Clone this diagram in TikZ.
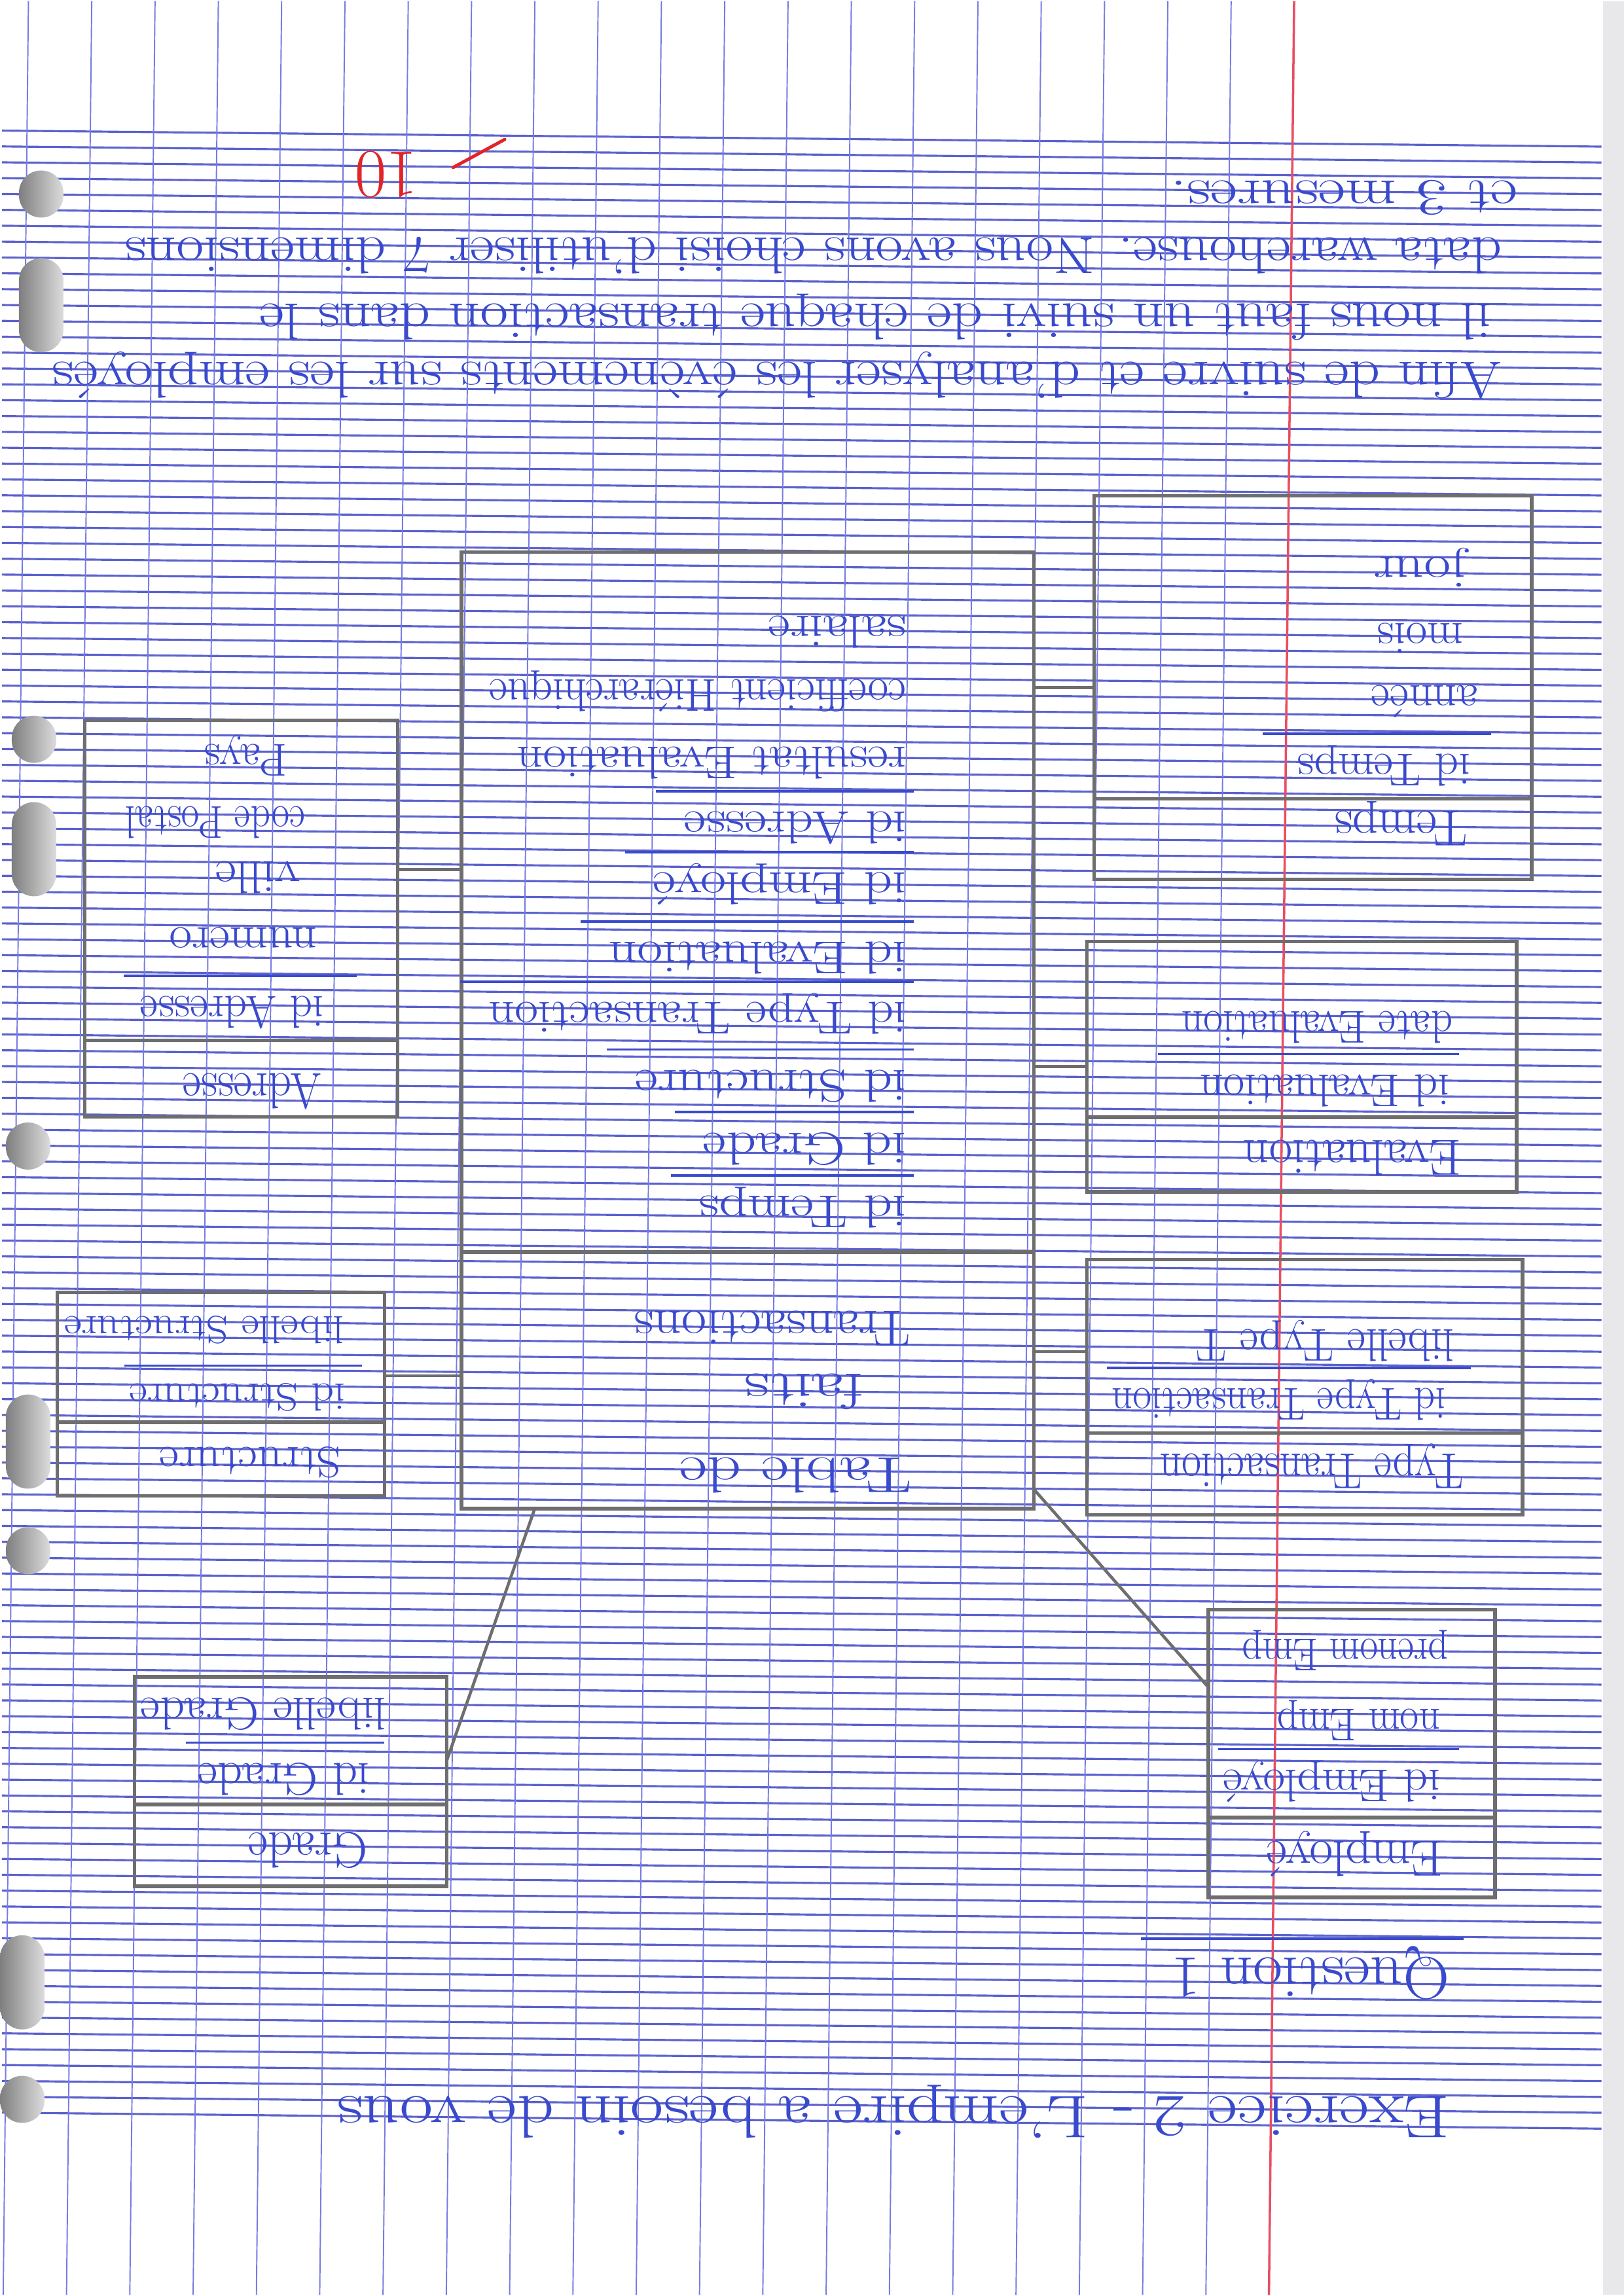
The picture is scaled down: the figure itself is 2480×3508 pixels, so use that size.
\documentclass[tikz,border=0pt]{standalone}
\usepackage{fontspec}
\usepackage{graphicx}
\usetikzlibrary{calc}

\definecolor{ink}{RGB}{58,74,205}
\definecolor{pencil}{RGB}{110,110,112}
\definecolor{ruling}{RGB}{92,98,205}
\definecolor{gridv}{RGB}{118,124,226}
\definecolor{marginred}{RGB}{232,78,98}
\definecolor{redpen}{RGB}{226,36,40}
\definecolor{holegrey}{RGB}{168,168,170}
\definecolor{scanedge}{RGB}{232,232,235}

\newcommand\fieldsize{\fontsize{20pt}{24pt}\selectfont}
\newcommand\smallfieldsize{\fontsize{17pt}{21pt}\selectfont}
\newcommand\headsize{\fontsize{22pt}{26pt}\selectfont}
\newcommand\parasize{\fontsize{22.5pt}{27pt}\selectfont}
\newcommand\titlesize{\fontsize{26pt}{30pt}\selectfont}
% set a handwritten line to a given width, keeping its height
\newcommand\fitto[2]{\resizebox{#1}{\height}{#2}}

\begin{document}
\begin{tikzpicture}[x=0.01cm, y=-0.01cm,
  hline/.style={draw=ruling, line width=0.9pt},
  vline/.style={draw=gridv, line width=0.55pt},
  tbl/.style={draw=pencil, line width=1.5pt, inner sep=0pt, outer sep=0pt},
  sepline/.style={draw=pencil, line width=1.6pt},
  linkline/.style={draw=pencil, line width=1.3pt},
  pk/.style={draw=ink, line width=1.1pt},
  fieldtext/.style={rotate=180, anchor=base west, inner sep=0pt, text=ink, font=\fieldsize},
  smallfield/.style={fieldtext, font=\smallfieldsize},
  headtext/.style={fieldtext, font=\headsize},
  prosetext/.style={fieldtext, font=\parasize},
  titletext/.style={fieldtext, font=\titlesize},
]

% ---------- sheet of ruled paper ----------
\fill[white] (0,0) rectangle (2480,3508);
\fill[scanedge] (2448,0) rectangle (2480,3508);

% horizontal ruling (2 mm pitch, sheet slightly tilted)
\foreach \i in {0,...,125} {
  \pgfmathsetmacro\ya{198+24.25*\i}
  \draw[hline] (0,\ya) -- (2446,{\ya+24.5});
}
% vertical ruling (8 mm pitch)
\foreach \k in {-7,...,12} {
  \pgfmathsetmacro\xa{706+96.8*\k}
  \draw[vline] ({\xa+12.1},0) -- ({\xa-26.5},3508);
}
% red margin
\draw[draw=marginred, line width=1pt] (1976,0) -- (1937.5,3508);

% punch holes
\foreach \hx/\hy/\hh in {60/295/72, 60/465/144, 49/1129/72, 49/1297/144,
                         40/1751/72, 40/2203/144, 40/2370/72, 31/3030/144, 31/3209/72} {
  \shade[left color=holegrey!75!black, right color=holegrey!40!white, rounded corners=0.34cm]
    ({\hx-34},{\hy-\hh/2}) rectangle ({\hx+34},{\hy+\hh/2});
}

% ---------- tables (pencil) ----------
\node[tbl, minimum width=8.75cm, minimum height=14.62cm] (fact)   at (1140.5,1574)  {};
\node[tbl, minimum width=6.69cm, minimum height=5.86cm]  (temps)  at (2004.5,1050)  {};
\node[tbl, minimum width=6.57cm, minimum height=3.83cm]  (eval)   at (1987.5,1629.5){};
\node[tbl, minimum width=6.66cm, minimum height=3.90cm]  (ttype)  at (1992,2120)    {};
\node[tbl, minimum width=4.38cm, minimum height=4.40cm]  (emp)    at (2064,2680)    {};
\node[tbl, minimum width=4.77cm, minimum height=3.20cm]  (grade)  at (441.5,2723)   {};
\node[tbl, minimum width=5.00cm, minimum height=3.11cm]  (struct) at (335,2130.5)   {};
\node[tbl, minimum width=4.78cm, minimum height=6.06cm]  (adr)    at (366,1403)     {};

% header separators
\draw[sepline] ($(fact.north west)!0.732!(fact.south west)$)     -- ($(fact.north east)!0.732!(fact.south east)$);
\draw[sepline] ($(temps.north west)!0.790!(temps.south west)$)   -- ($(temps.north east)!0.790!(temps.south east)$);
\draw[sepline] ($(eval.north west)!0.702!(eval.south west)$)     -- ($(eval.north east)!0.702!(eval.south east)$);
\draw[sepline] ($(ttype.north west)!0.679!(ttype.south west)$)   -- ($(ttype.north east)!0.679!(ttype.south east)$);
\draw[sepline] ($(emp.north west)!0.723!(emp.south west)$)       -- ($(emp.north east)!0.723!(emp.south east)$);
\draw[sepline] ($(grade.north west)!0.609!(grade.south west)$)   -- ($(grade.north east)!0.609!(grade.south east)$);
\draw[sepline] ($(struct.north west)!0.637!(struct.south west)$) -- ($(struct.north east)!0.637!(struct.south east)$);
\draw[sepline] ($(adr.north west)!0.807!(adr.south west)$)       -- ($(adr.north east)!0.807!(adr.south east)$);

% ---------- links between fact table and dimensions ----------
\draw[linkline] (temps.west) -- (temps.west -| fact.east);
\draw[linkline] (eval.west) -- (eval.west -| fact.east);
\coordinate (ttypeL) at ($(ttype.north west)!0.36!(ttype.south west)$);
\draw[linkline] (ttypeL) -- (ttypeL -| fact.east);
\coordinate (adrR) at ($(adr.north east)!0.376!(adr.south east)$);
\draw[linkline] (adrR) -- (adrR -| fact.west);
\coordinate (structR) at ($(struct.north east)!0.41!(struct.south east)$);
\draw[linkline] (structR) -- (structR -| fact.west);
\draw[linkline] ($(fact.south west)!0.128!(fact.south east)$) -- ($(grade.north east)!0.40!(grade.south east)$);
\draw[linkline] ($(fact.north east)!0.98!(fact.south east)$) -- ($(emp.north west)!0.27!(emp.south west)$);

% ---------- fact table text ----------
\node[headtext] (fh1) at (1392,2228) {\fitto{3.55cm}{Table de}};
\node[headtext] (fh2) at (1318,2100) {\fitto{1.82cm}{faits}};
\node[headtext] (fh3) at (1390,2004) {\fitto{4.22cm}{Transactions}};
\node[fieldtext] (f1)  at (1384,1828) {\fitto{3.17cm}{id Temps}};
\node[fieldtext] (f2)  at (1384,1731) {\fitto{3.11cm}{id Grade}};
\node[fieldtext] (f3)  at (1384,1635) {\fitto{4.15cm}{id Structure}};
\node[fieldtext] (f4)  at (1384,1531) {\fitto{6.39cm}{id Type Transaction}};
\node[fieldtext] (f5)  at (1384,1439) {\fitto{4.55cm}{id Evaluation}};
\node[fieldtext] (f6)  at (1384,1333) {\fitto{3.87cm}{id Employé}};
\node[fieldtext] (f7)  at (1384,1240) {\fitto{3.40cm}{id Adresse}};
\node[fieldtext] (f8)  at (1384,1141) {\fitto{5.95cm}{resultat Evaluation}};
\node[fieldtext] (f9)  at (1384,1038) {\fitto{6.37cm}{coefficient Hiérarchique}};
\node[fieldtext] (f10) at (1384,941)  {\fitto{2.11cm}{salaire}};
\foreach \n in {f1,f2,f3,f4,f5,f6,f7}
  \draw[pk] ([xshift=3pt,yshift=9pt]\n.base west) -- ([xshift=-12pt,yshift=9pt]\n.base east);

% ---------- Temps ----------
\node[headtext]  (t0) at (2241,1239) {\fitto{2.02cm}{Temps}};
\node[fieldtext] (t1) at (2246,1152) {\fitto{2.64cm}{id Temps}};
\node[fieldtext] (t2) at (2258,1047) {\fitto{1.63cm}{année}};
\node[fieldtext] (t3) at (2235,952)  {\fitto{1.31cm}{mois}};
\node[fieldtext] (t4) at (2241,851)  {\fitto{1.42cm}{jour}};
\draw[pk] ([xshift=9pt,yshift=9pt]t1.base west) -- ([xshift=-15pt,yshift=9pt]t1.base east);

% ---------- Evaluation ----------
\node[headtext]  (e0) at (2232,1742) {\fitto{3.33cm}{Evaluation}};
\node[fieldtext] (e1) at (2214,1642) {\fitto{3.81cm}{id Evaluation}};
\node[fieldtext] (e2) at (2219,1545) {\fitto{4.14cm}{date Evaluation}};
\draw[pk] ([xshift=4pt,yshift=9pt]e1.base west) -- ([xshift=-18pt,yshift=9pt]e1.base east);

% ---------- Type Transaction ----------
\node[headtext]  (y0) at (2235,2222) {\fitto{4.63cm}{Type Transaction}};
\node[fieldtext] (y1) at (2208,2122) {\fitto{5.10cm}{id Type Transaction}};
\node[fieldtext] (y2) at (2221,2032) {\fitto{3.94cm}{libelle Type T}};
\draw[pk] ([xshift=11pt,yshift=9pt]y1.base west) -- ([xshift=-2pt,yshift=9pt]y1.base east);

% ---------- Employé ----------
\node[headtext]  (m0) at (2204,2815) {\fitto{2.69cm}{Employé}};
\node[fieldtext] (m1) at (2200,2705) {\fitto{3.32cm}{id Employé}};
\node[fieldtext] (m2) at (2200,2612) {\fitto{2.49cm}{nom Emp}};
\node[fieldtext] (m3) at (2212,2505) {\fitto{3.14cm}{prenom Emp}};
\draw[pk] ([xshift=8pt,yshift=9pt]m1.base west) -- ([xshift=-2pt,yshift=9pt]m1.base east);

% ---------- Grade ----------
\node[headtext]  (g0) at (560,2802) {\fitto{1.83cm}{Grade}};
\node[fieldtext] (g1) at (563,2695) {\fitto{2.63cm}{id Grade}};
\node[fieldtext] (g2) at (588,2595) {\fitto{3.75cm}{libelle Grade}};
\draw[pk] ([xshift=6pt,yshift=9pt]g1.base west) -- ([xshift=-5pt,yshift=9pt]g1.base east);

% ---------- Structure ----------
\node[smallfield] (s0) at (519,2212) {\fitto{2.77cm}{\fontsize{19pt}{23pt}\selectfont Structure}};
\node[smallfield] (s1) at (526,2115) {\fitto{3.30cm}{id Structure}};
\node[smallfield] (s2) at (524,2012) {\fitto{4.28cm}{libelle Structure}};
\draw[pk] ([xshift=7pt,yshift=8pt]s1.base west) -- ([xshift=-2pt,yshift=8pt]s1.base east);

% ---------- Adresse ----------
\node[headtext]  (a0) at (490,1640) {\fitto{2.13cm}{Adresse}};
\node[fieldtext] (a1) at (493,1522) {\fitto{2.81cm}{id Adresse}};
\node[fieldtext] (a2) at (483,1417) {\fitto{2.26cm}{numero}};
\node[fieldtext] (a3) at (457,1316) {\fitto{1.30cm}{ville}};
\node[fieldtext] (a4) at (465,1232) {\fitto{2.75cm}{code Postal}};
\node[fieldtext] (a5) at (437,1137) {\fitto{1.27cm}{Pays}};
\draw[pk] ([xshift=14pt,yshift=9pt]a1.base west) -- ([xshift=-7pt,yshift=9pt]a1.base east);

% ---------- heading of the exercise ----------
\node[titletext] (ex) at (2214,3205) {\fitto{17.00cm}{Exercice 2 - L'empire a besoin de vous}};
\node[titletext] (q1) at (2214,2993) {\fitto{4.25cm}{Question 1}};
\draw[pk] ([xshift=6pt,yshift=8.5pt]q1.base west) -- ([xshift=-13pt,yshift=8.5pt]q1.base east);

% ---------- answer text ----------
\node[prosetext] (p1) at (2294,552) {\fitto{22.15cm}{Afin de suivre et d'analyser les évènements sur les employés}};
\node[prosetext] (p2) at (2278,463) {\fitto{18.82cm}{il nous faut un suivi de chaque transaction dans le}};
\node[prosetext] (p3) at (2294,362) {\fitto{21.04cm}{data warehouse. Nous avons choisi d'utiliser 7 dimensions}};
\node[prosetext] (p4) at (2318,275) {\fitto{5.30cm}{et 3 mesures.}};

% ---------- mark in red ----------
\node[rotate=180, inner sep=0pt, text=redpen, font=\fontsize{30pt}{34pt}\selectfont] (mark) at (588,265) {10};
\draw[redpen, line width=1.4pt, line cap=round] ([xshift=15pt,yshift=3pt]mark.west) -- ++(79,-43);

\end{tikzpicture}
\end{document}
